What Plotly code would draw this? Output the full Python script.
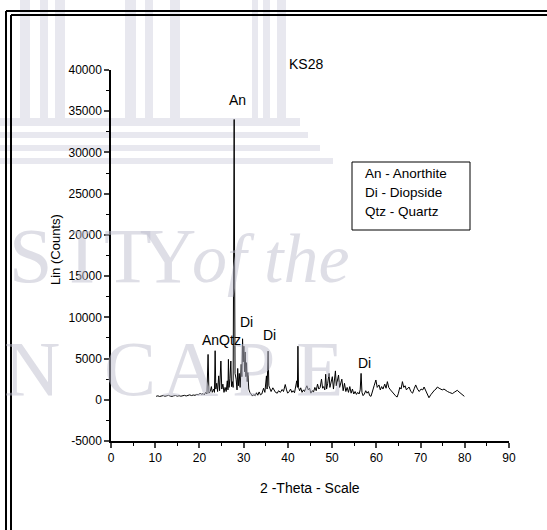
import plotly.graph_objects as go

# ---- XRD pattern of sample KS28 (2-theta in degrees, intensity in counts) ----
two_theta = [
    10.2, 10.6, 11.0, 11.4, 11.8, 12.2, 12.6, 13.0, 13.4, 13.8, 14.2, 14.6, 15.0, 15.4, 15.8,
    16.2, 16.6, 17.0, 17.4, 17.8, 18.2, 18.6, 19.0, 19.4, 19.8, 20.2, 20.5, 20.8, 21.1, 21.4,
    21.7, 21.95, 22.15, 22.45, 22.7, 22.9, 23.2, 23.4, 23.55, 23.7, 23.9, 24.1, 24.35, 24.55,
    24.85, 25.05, 25.3, 25.55, 25.8, 26.05, 26.3, 26.45, 26.55, 26.7, 26.9, 27.1, 27.25, 27.45,
    27.62, 27.76, 27.85, 27.93, 28.05, 28.3, 28.5, 28.65, 28.8, 29.0, 29.2, 29.45, 29.6, 29.75,
    29.9, 30.05, 30.2, 30.35, 30.5, 30.65, 30.8, 30.95, 31.15, 31.4, 31.7, 32.0, 32.3, 32.6,
    32.9, 33.2, 33.5, 33.8, 34.1, 34.5, 34.8, 35.15, 35.3, 35.52, 35.7, 35.9, 36.2, 36.6, 36.9,
    37.2, 37.6, 37.9, 38.3, 38.7, 39.0, 39.4, 39.7, 39.95, 40.3, 40.6, 40.9, 41.2, 41.5, 41.8,
    42.0, 42.15, 42.27, 42.4, 42.65, 42.9, 43.2, 43.5, 43.75, 44.0, 44.3, 44.6, 44.9, 45.2,
    45.5, 45.8, 46.1, 46.4, 46.7, 47.0, 47.3, 47.6, 47.85, 48.1, 48.35, 48.55, 48.75, 49.0,
    49.3, 49.5, 49.8, 50.05, 50.3, 50.55, 50.75, 50.95, 51.2, 51.45, 51.7, 51.95, 52.2, 52.5,
    52.8, 53.1, 53.4, 53.7, 54.0, 54.3, 54.6, 54.9, 55.2, 55.5, 55.8, 56.1, 56.35, 56.55,
    56.75, 57.0, 57.3, 57.6, 57.9, 58.2, 58.5, 58.8, 59.2, 59.5, 59.9, 60.2, 60.6, 60.9, 61.2,
    61.5, 61.9, 62.2, 62.5, 62.8, 63.2, 63.6, 64.0, 64.3, 64.7, 65.0, 65.3, 65.6, 65.9, 66.2,
    66.5, 66.8, 67.1, 67.4, 67.8, 68.2, 68.6, 68.9, 69.3, 69.7, 70.1, 70.5, 70.8, 71.2, 71.6,
    71.9, 72.3, 72.8, 73.2, 73.5, 73.8, 74.2, 74.6, 74.9, 75.3, 75.7, 76.1, 76.5, 76.9, 77.2,
    77.6, 78.0, 78.3, 78.7, 79.1, 79.5, 79.9,
]
counts = [
    420, 480, 400, 460, 510, 430, 470, 540, 450, 410, 490, 520, 440, 500, 430,
    470, 540, 460, 520, 600, 510, 580, 540, 650, 600, 820, 640, 760, 600, 900,
    700, 5500, 800, 1000, 1600, 900, 1300, 900, 5950, 1300, 2000, 1000, 2900, 1100,
    4700, 1300, 1900, 900, 1500, 1000, 2300, 1200, 4900, 1500, 2600, 4700, 1600, 2200,
    1500, 21000, 34000, 19500, 3200, 2500, 1200, 3800, 1700, 3200, 1500, 4300, 2800, 7400,
    4600, 6500, 3400, 5800, 2800, 4500, 2200, 3300, 1300, 900, 700, 450, 650, 500,
    850, 550, 950, 600, 700, 1400, 900, 2900, 1300, 5900, 1700, 1300, 1000, 1450, 1100,
    900, 800, 1100, 900, 1250, 1000, 1850, 1200, 800, 1000, 1300, 900, 1100, 850, 1600,
    2300, 1500, 6500, 1500, 1100, 1450, 900, 1200, 1000, 1350, 1700, 1200, 1400, 800,
    1100, 950, 1500, 1100, 1900, 1300, 1500, 2500, 1400, 1600, 1200, 3100, 1300, 2000,
    3200, 1500, 2100, 2800, 1300, 2200, 3500, 1700, 2400, 3000, 1500, 2100, 2500, 1100,
    2000, 1000, 1500, 900, 1600, 800, 1300, 700, 1000, 650, 900, 700, 1200, 3200,
    900, 500, 700, 1100, 800, 1000, 500, 420, 1300, 1700, 2400, 1500, 1800, 1200, 1600,
    1300, 1900, 1400, 2200, 1500, 1200, 1000, 700, 500, 330, 800, 1500, 1300, 2200, 1500,
    1700, 1200, 1400, 1550, 1000, 800, 1400, 1800, 1300, 1000, 1300, 1200, 1550, 1000, 600,
    250, 600, 1000, 1200, 1300, 1550, 1400, 1300, 1200, 1300, 1100, 1000, 900, 800, 750,
    900, 1050, 1150, 950, 750, 600, 420,
]

# phase labels placed over the pattern
phase_labels = ["An", "AnQtz", "Di", "Di", "Di"]
phase_theta = [28.7, 25.0, 30.7, 35.9, 57.3]
phase_counts = [36400, 7300, 9400, 7900, 4500]

legend_lines = ["An - Anorthite", "Di - Diopside", "Qtz - Quartz"]

x_ticks = [0, 10, 20, 30, 40, 50, 60, 70, 80, 90]
y_ticks = [-5000, 0, 5000, 10000, 15000, 20000, 25000, 30000, 35000, 40000]
y_tick_text = ["-5000", "0", "5000", "10000", "15000", "20000", "25000", "30000", "35000", "40000"]

# ---- page geometry (pixels) ----
W, H = 547, 530
PL, PR, PT, PB = 111, 509, 70, 441
X_RANGE = [0, 90]
Y_RANGE = [-5000, 40000]


def fx(x):
    return (x - PL) / (PR - PL)


def fy(y):
    return (PB - y) / (PB - PT)


SANS = "Liberation Sans, Arial, sans-serif"
SERIF = "Liberation Serif, Times New Roman, serif"
WM_TEXT = "rgba(190,190,205,0.5)"
WM_FILL = "rgba(200,200,216,0.42)"

fig = go.Figure()

# diffraction pattern
fig.add_trace(go.Scatter(
    x=two_theta, y=counts, mode="lines",
    line=dict(color="black", width=1), showlegend=False, hoverinfo="skip",
))

shapes = []
# watermark crest: columns and steps
for x0, x1 in [(20, 30), (40, 48), (55, 65), (125, 136), (145, 153), (170, 180),
               (252, 258), (263, 270), (277, 286)]:
    shapes.append(dict(type="rect", xref="paper", yref="paper", layer="below",
                       x0=fx(x0), x1=fx(x1), y0=fy(118), y1=fy(0),
                       fillcolor=WM_FILL, line=dict(width=0)))
for y0, y1, x1 in [(118, 126, 300), (132, 138, 308), (145, 151, 320), (158, 164, 333)]:
    shapes.append(dict(type="rect", xref="paper", yref="paper", layer="below",
                       x0=fx(0), x1=fx(x1), y0=fy(y1), y1=fy(y0),
                       fillcolor=WM_FILL, line=dict(width=0)))

# double page frame
for xv, yv in [(6, 11), (11, 15)]:
    shapes.append(dict(type="line", xref="paper", yref="paper",
                       x0=fx(xv), x1=fx(W + 5), y0=fy(yv), y1=fy(yv),
                       line=dict(color="black", width=2)))
    shapes.append(dict(type="line", xref="paper", yref="paper",
                       x0=fx(xv), x1=fx(xv), y0=fy(yv), y1=fy(H + 5),
                       line=dict(color="black", width=2)))

# key box
shapes.append(dict(type="rect", xref="paper", yref="paper",
                   x0=fx(352), x1=fx(470), y0=fy(230), y1=fy(162),
                   fillcolor="white", line=dict(color="black", width=1)))

annotations = []


def page_text(x, y, text, size, family=SANS, color="black", xanchor="center", **kw):
    annotations.append(dict(x=fx(x), y=fy(y), xref="paper", yref="paper", text=text,
                            showarrow=False, xanchor=xanchor, yanchor="middle",
                            font=dict(family=family, size=size, color=color), **kw))


# watermark lettering
for ch, x, y in [("S", 30, 255), ("I", 82, 255), ("T", 128, 255), ("Y", 168, 255),
                 ("N", 32, 368), ("C", 130, 368), ("A", 190, 368), ("P", 253, 368),
                 ("E", 320, 368)]:
    page_text(x, y, ch, 78, family=SERIF, color=WM_TEXT)
page_text(270, 258, "<i>of the</i>", 70, family=SERIF, color=WM_TEXT)

for name, t, c in zip(phase_labels, phase_theta, phase_counts):
    annotations.append(dict(x=t, y=c, xref="x", yref="y", text=name, showarrow=False,
                            xanchor="center", yanchor="middle",
                            font=dict(family=SANS, size=14, color="black")))

for i, line in enumerate(legend_lines):
    page_text(363, 173 + 19.3 * i, line, 13.5, xanchor="left")

page_text(306, 64, "KS28", 14)
page_text(310, 488, "2 -Theta - Scale", 14)
page_text(55, 250, "Lin (Counts)", 13, textangle=-90)

fig.update_layout(
    width=W, height=H,
    margin=dict(l=PL, r=W - PR, t=PT, b=H - PB),
    paper_bgcolor="white", plot_bgcolor="rgba(0,0,0,0)",
    shapes=shapes, annotations=annotations, showlegend=False,
    xaxis=dict(range=X_RANGE, tickvals=x_ticks, ticks="outside", ticklen=5, tickwidth=1.5,
               showline=True, linecolor="black", linewidth=1.5, showgrid=False, zeroline=False,
               tickfont=dict(family=SANS, size=12, color="black"),
               minor=dict(ticks="outside", ticklen=3, tickwidth=1.2, dtick=5, tick0=0,
                          tickcolor="black", showgrid=False)),
    yaxis=dict(range=Y_RANGE, tickvals=y_ticks, ticktext=y_tick_text, ticks="outside",
               ticklen=5, tickwidth=1.5, showline=True, linecolor="black", linewidth=1.5,
               showgrid=False, zeroline=False,
               tickfont=dict(family=SANS, size=12, color="black"),
               minor=dict(ticks="outside", ticklen=3, tickwidth=1.2, dtick=2500, tick0=0,
                          tickcolor="black", showgrid=False)),
)

fig.write_html("out.html")
